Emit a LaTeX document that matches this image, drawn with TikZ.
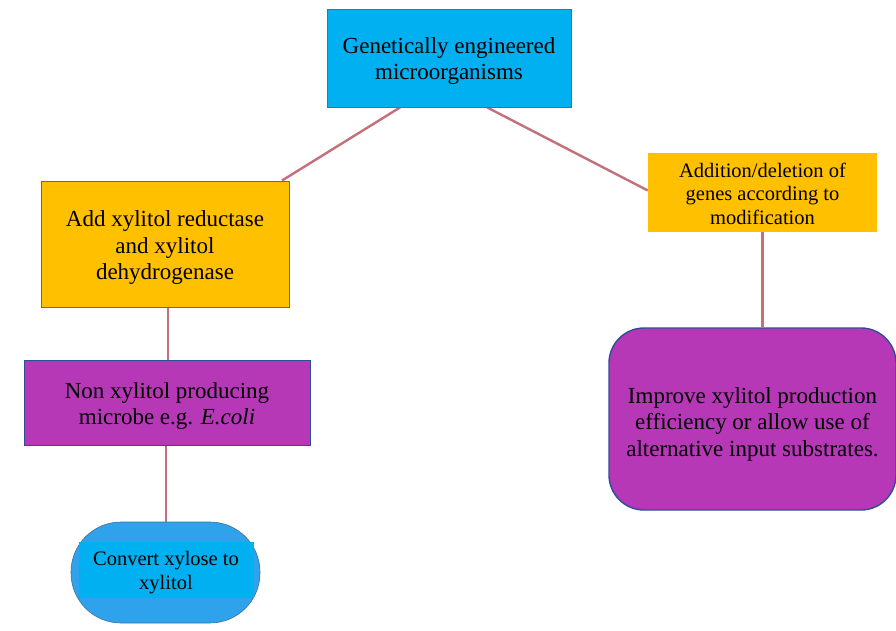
\documentclass[tikz,border=0pt]{standalone}
\usepackage{fontspec}
\setmainfont{Liberation Serif}
\usetikzlibrary{calc,backgrounds}

\definecolor{boxcyan}{HTML}{00B0F0}
\definecolor{boxorange}{HTML}{FFC000}
\definecolor{boxpurple}{HTML}{B638B6}
\definecolor{pillblue}{HTML}{2FA2EC}
\definecolor{edgeblue}{HTML}{41719C}
\definecolor{edgedark}{HTML}{2F4E97}
\definecolor{linkrose}{HTML}{C4707A}

% invisible strut on a first line: a taller first line lowers the block in its box
\newcommand{\liftstrut}[1]{\rule{0pt}{#1}}

\tikzset{
  bigtext/.style={font=\fontsize{23}{26.5}\selectfont, align=center, text=black},
  smalltext/.style={font=\fontsize{20.5}{23.5}\selectfont, align=center, text=black},
  plainbox/.style={rectangle, inner sep=0pt},
  link/.style={draw=linkrose, line width=2.4pt}
}

\begin{document}
\begin{tikzpicture}[x=1pt,y=-1pt]
  \useasboundingbox (0,0) rectangle (896,631);
  \clip (0,0) rectangle (896,631);

  % top level
  \node[plainbox, bigtext, fill=boxcyan, draw=edgeblue, line width=0.9pt,
        minimum width=244pt, minimum height=98pt] (gem) at (449,58)
        {\liftstrut{22pt}Genetically engineered\\microorganisms};

  % left branch
  \node[plainbox, bigtext, fill=boxorange, draw=edgeblue, line width=0.9pt,
        minimum width=248pt, minimum height=126pt] (addxr) at (165,244)
        {\liftstrut{23pt}Add xylitol reductase\\and xylitol\\dehydrogenase};

  \node[plainbox, bigtext, fill=boxpurple, draw=edgedark, line width=1pt,
        minimum width=286pt, minimum height=85pt] (microbe) at (167,402.5)
        {\liftstrut{23pt}Non xylitol producing\\microbe e.g. \textit{E.coli}};

  \node[plainbox, fill=pillblue, draw=edgeblue, line width=0.6pt,
        rounded corners=50pt, minimum width=189pt, minimum height=101pt]
        (convert) at (165.5,572.5) {};
  \node[plainbox, smalltext, fill=boxcyan,
        minimum width=175pt, minimum height=56pt] (convtext) at (166,570)
        {\liftstrut{19pt}Convert xylose to\\xylitol};

  % right branch
  \node[plainbox, smalltext, fill=boxorange,
        minimum width=229pt, minimum height=79pt] (genes) at (762.5,192.5)
        {\liftstrut{17pt}Addition/deletion of\\genes according to\\modification};

  \node[plainbox, bigtext, fill=boxpurple, draw=edgedark, line width=1.4pt,
        rounded corners=35pt, minimum width=287pt, minimum height=182pt]
        (improve) at (752.5,419)
        {\liftstrut{26pt}Improve xylitol production\\efficiency or allow use of\\alternative input substrates.};

  % attachment points of the connectors
  \coordinate (gemL) at ($(gem.south west)!0.3!(gem.south east)$);
  \coordinate (gemR) at ($(gem.south west)!0.656!(gem.south east)$);
  \coordinate (addxrTop) at ($(addxr.north west)!0.97!(addxr.north east)$);
  \coordinate (genesIn) at ($(genes.west)+(0,-2)$);
  \coordinate (addxrOut) at ($(addxr.south)+(3,0)$);
  \coordinate (microbeOut) at ($(microbe.south)+(-1,0)$);

  % connectors
  \begin{scope}[on background layer]
    \draw[link] (gemL) -- (addxrTop);
    \draw[link] (gemR) -- (genesIn);
    \draw[link] (addxrOut) -- (addxrOut |- microbe.north);
    \draw[link] (microbeOut) -- (microbeOut |- convert.north);
    \draw[link] (genes.south) -- (genes.south |- improve.north);
  \end{scope}
\end{tikzpicture}
\end{document}
